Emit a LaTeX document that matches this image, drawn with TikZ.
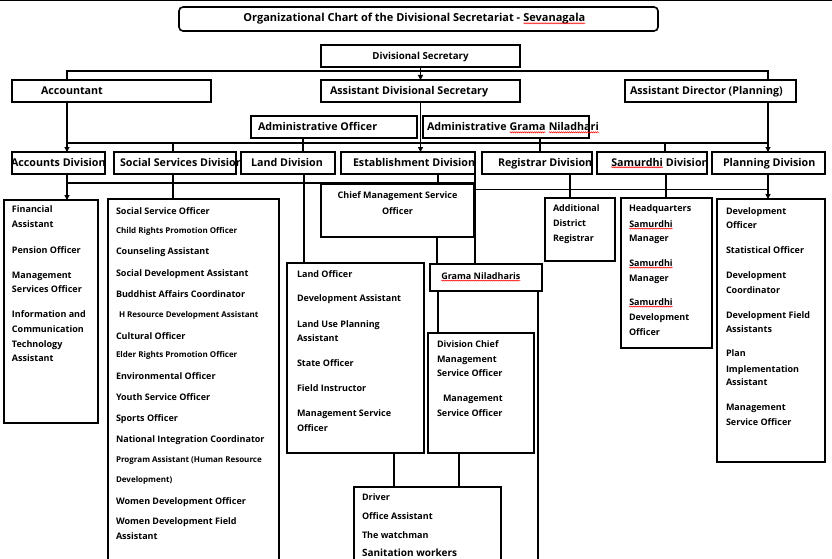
\documentclass[tikz,border=0pt]{standalone}
\usepackage{fontspec}
\setmainfont{Open Sans}
\usetikzlibrary{arrows.meta,decorations.pathmorphing}
\newcommand\sq[1]{\tikz[baseline=(sqw.base)]{\node[inner sep=0pt,outer sep=0pt,anchor=base] (sqw) {#1};\draw[red,line width=0.5pt,decorate,decoration={snake,amplitude=0.6pt,segment length=2pt}] ([yshift=-1.3pt]sqw.base west) -- ([yshift=-1.3pt]sqw.base east);}}
\newcommand\hdfont{\bfseries\fontsize{10.7}{13}\selectfont}
\begin{document}
\begin{tikzpicture}[x=1pt,y=-1pt,
  bx/.style={draw,line width=1.6pt,inner sep=0pt,outer sep=0pt,anchor=north west},
  ln/.style={line width=1.6pt},
  thinln/.style={line width=1pt},
  arr/.style={line width=1.6pt,-{Triangle[length=5pt,width=5pt]}},
  tx/.style={anchor=base west,inner sep=0pt,outer sep=0pt},
  hd/.style={tx,font=\hdfont}]
\clip (0,0) rectangle (832,559);
\draw[thinln] (0,0.5) -- (832,0.5);
% ---------- boxes
\node[bx,rounded corners=4pt,minimum width=479pt,minimum height=24pt] (title) at (179,7) {};
\node[bx,minimum width=199pt,minimum height=22pt] (ds) at (321,45) {};
\node[bx,minimum width=199pt,minimum height=22pt] (acc) at (12,80) {};
\node[bx,minimum width=199pt,minimum height=22pt] (ads) at (321,80) {};
\node[bx,minimum width=171pt,minimum height=22pt] (adp) at (625,80) {};
\node[bx,minimum width=166pt,minimum height=22pt] (ao) at (251,116) {};
\node[bx,minimum width=166pt,minimum height=22pt] (agn) at (423,116) {};
\node[bx,minimum width=93pt,minimum height=22pt] (dacc) at (12,152) {};
\node[bx,minimum width=122pt,minimum height=22pt] (dsoc) at (114,152) {};
\node[bx,minimum width=94pt,minimum height=22pt] (dland) at (241,152) {};
\node[bx,minimum width=134pt,minimum height=22pt] (dest) at (341,152) {};
\node[bx,minimum width=110pt,minimum height=22pt] (dreg) at (482,152) {};
\node[bx,minimum width=110pt,minimum height=22pt] (dsam) at (597,152) {};
\node[bx,minimum width=113pt,minimum height=22pt] (dplan) at (712,152) {};
\node[bx,minimum width=94pt,minimum height=223pt] (sacc) at (4,200) {};
\node[bx,minimum width=171pt,minimum height=380pt] (ssoc) at (108,199) {};
\node[bx,minimum width=153pt,minimum height=53pt] (cmso) at (321,184) {};
\node[bx,minimum width=137pt,minimum height=190pt] (land) at (287,263) {};
\node[bx,minimum width=112pt,minimum height=27pt] (gn) at (430,264) {};
\node[bx,minimum width=106pt,minimum height=120pt] (dcm) at (428,333) {};
\node[bx,minimum width=147pt,minimum height=90pt] (drv) at (354,487) {};
\node[bx,minimum width=70pt,minimum height=63pt] (adr) at (545,198) {};
\node[bx,minimum width=91pt,minimum height=150pt] (sam) at (621,198) {};
\node[bx,minimum width=108pt,minimum height=263pt] (plan) at (717,199) {};
% ---------- coordinates
\coordinate (b1l) at (67,71);
\coordinate (b1r) at (768,71);
\coordinate (b2l) at (67,143);
\coordinate (b2r) at (768,143);
\coordinate (b3l) at (67,183);
\coordinate (b3r) at (475,183);
\coordinate (b4l) at (475,189);
\coordinate (b4r) at (768,189);
\coordinate (x173) at (173,0);
\coordinate (x303) at (303,0);
\coordinate (x304) at (304,0);
\coordinate (x394) at (394,0);
\coordinate (x437) at (437,0);
\coordinate (x438) at (438,0);
\coordinate (x459) at (459,0);
\coordinate (x538) at (538,0);
\coordinate (x540) at (540,0);
\coordinate (x570) at (570,0);
\coordinate (x665) at (665,0);
\coordinate (x666) at (666,0);
\coordinate (gnend) at (538,570);
% ---------- connectors
\draw[arr] (ds.south) -- (ds.south |- ads.north);
\draw[ln] (b1l |- acc.north) -- (b1l) -- (b1r) -- (b1r |- adp.north);
\draw[arr] (b1l |- acc.south) -- (b1l |- dacc.north);
\draw[arr] (b1r |- adp.south) -- (b1r |- dplan.north);
\draw[arr] (ads.south) -- (ads.south |- dest.north);
\draw[ln] (b2l) -- (b2r);
\draw[ln] (x173 |- b2l) -- (x173 |- dsoc.north);
\draw[ln] (x303 |- ao.south) -- (x303 |- dland.north);
\draw[ln] (x540 |- agn.south) -- (x540 |- dreg.north);
\draw[ln] (x665 |- b2l) -- (x665 |- dsam.north);
\draw[arr] (b1l |- dacc.south) -- (b1l |- sacc.north);
\draw[ln] (x173 |- dsoc.south) -- (x173 |- ssoc.north);
\draw[ln] (x304 |- dland.south) -- (x304 |- land.north);
\draw[ln] (x438 |- dest.south) -- (x438 |- cmso.north);
\draw[ln] (b3l) -- (b3r);
\draw[ln] (dest.south east) -- (dest.south east |- gn.north);
\draw[thinln] (b4l) -- (b4r);
\draw[ln] (x570 |- dreg.south) -- (x570 |- adr.north);
\draw[ln] (x666 |- dsam.south) -- (x666 |- sam.north);
\draw[arr] (b1r |- dplan.south) -- (b1r |- plan.north);
\draw[ln] (x437 |- cmso.south) -- (x437 |- gn.north);
\draw[ln] (x438 |- gn.south) -- (x438 |- dcm.north);
\draw[ln] (x538 |- gn.south) -- (gnend);
\draw[ln] (x394 |- land.south) -- (x394 |- drv.north);
\draw[ln] (x459 |- dcm.south) -- (x459 |- drv.north);
% ---------- header texts
\node[tx,anchor=base,font=\bfseries\fontsize{11}{13}\selectfont] (titlet) at (414.5,22) {Organizational Chart of the Divisional Secretariat - \sq{Sevanagala}};
\node[tx,anchor=base,font=\bfseries\fontsize{9.7}{12}\selectfont] (dst) at (420.5,59.6) {Divisional Secretary};
\node[hd] (acct) at (41,95) {Accountant};
\node[hd] (adst) at (330,95) {Assistant Divisional Secretary};
\node[hd] (adpt) at (630,95) {Assistant Director (Planning)};
\node[hd] (aot) at (258,131) {Administrative Officer};
\node[hd] (agnt) at (427,131) {Administrative \sq{Grama} \sq{Niladhari}};
\node[hd] (dacct) at (11,166) {Accounts Division};
\node[hd] (dsoct) at (120,166) {Social Services Division};
\node[hd] (dlandt) at (251,166) {Land Division};
\node[hd] (destt) at (353,166) {Establishment Division};
\node[hd] (dregt) at (498,166) {Registrar Division};
\node[hd] (dsamt) at (611,166) {\sq{Samurdhi} Division};
\node[hd] (dplant) at (723,166) {Planning Division};
% ---------- box contents
\foreach \xx/\yy/\fs/\tx [count=\i] in {12/209/9/Financial,12/224/9/Assistant,12/250/9/Pension Officer,12/275/9/Management,12/289/9/Services Officer,12/314/9/Information and,12/329/9/Communication,12/344/9/Technology,12/358/9/Assistant}
  \node[tx,font=\bfseries\fontsize{\fs}{\fs}\selectfont] (sacc\i) at (\xx,\yy+0.37*\fs) {\tx};
\foreach \xx/\yy/\fs/\tx [count=\i] in {116/211/9/Social Service Officer,116/231/8/Child Rights Promotion Officer,116/251/9/Counseling Assistant,116/273/9/Social Development Assistant,116/294/9/Buddhist Affairs Coordinator,119/315/8/H Resource Development Assistant,116/336/9/Cultural Officer,116/355/8/Elder Rights Promotion Officer,116/376/9/Environmental Officer,116/397/9/Youth Service Officer,116/418/9/Sports Officer,116/439/9/National Integration Coordinator,116/460/8/Program Assistant (Human Resource,116/480/8/Development),116/501/9/Women Development Officer,116/521/9/Women Development Field,116/536/9/Assistant}
  \node[tx,font=\bfseries\fontsize{\fs}{\fs}\selectfont] (ssoc\i) at (\xx,\yy+0.37*\fs) {\tx};
\node[tx,anchor=base,font=\bfseries\fontsize{9}{9}\selectfont] (cmso1) at (397.5,198.3) {Chief Management Service};
\node[tx,anchor=base,font=\bfseries\fontsize{9}{9}\selectfont] (cmso2) at (397.5,214.3) {Officer};
\foreach \xx/\yy/\fs/\tx [count=\i] in {297/274/9/Land Officer,297/298/9/Development Assistant,297/324/9/Land Use Planning,297/338/9/Assistant,297/363/9/State Officer,297/388/9/Field Instructor,297/413/9/Management Service,297/428/9/Officer}
  \node[tx,font=\bfseries\fontsize{\fs}{\fs}\selectfont] (land\i) at (\xx,\yy+0.37*\fs) {\tx};
\node[tx,font=\bfseries\fontsize{9}{9}\selectfont] (gnt) at (441,279.3) {\sq{Grama Niladharis}};
\foreach \xx/\yy/\fs/\tx [count=\i] in {437/344/9/Division Chief,437/359/9/Management,437/373/9/Service Officer,443/398/9/Management,437/413/9/Service Officer}
  \node[tx,font=\bfseries\fontsize{\fs}{\fs}\selectfont] (dcm\i) at (\xx,\yy+0.37*\fs) {\tx};
\foreach \xx/\yy/\fs/\tx [count=\i] in {362/497/9/Driver,362/516/9/Office Assistant,362/535/9/The watchman,362/553/10/Sanitation workers}
  \node[tx,font=\bfseries\fontsize{\fs}{\fs}\selectfont] (drv\i) at (\xx,\yy+0.37*\fs) {\tx};
\foreach \xx/\yy/\fs/\tx [count=\i] in {553/208/9/Additional,553/223/9/District,553/238/9/Registrar}
  \node[tx,font=\bfseries\fontsize{\fs}{\fs}\selectfont] (adr\i) at (\xx,\yy+0.37*\fs) {\tx};
\foreach \xx/\yy/\fs/\tx [count=\i] in {629/208/9/Headquarters,629/224/9/\sq{Samurdhi},629/238/9/Manager,629/263/9/\sq{Samurdhi},629/278/9/Manager,629/302/9/\sq{Samurdhi},629/317/9/Development,629/332/9/Officer}
  \node[tx,font=\bfseries\fontsize{\fs}{\fs}\selectfont] (sam\i) at (\xx,\yy+0.37*\fs) {\tx};
\foreach \xx/\yy/\fs/\tx [count=\i] in {726/211/9/Development,726/225/9/Officer,726/250/9/Statistical Officer,726/275/9/Development,726/290/9/Coordinator,726/315/9/Development Field,726/329/9/Assistants,726/353/9/Plan,726/369/9/Implementation,726/382/9/Assistant,726/407/9/Management,726/422/9/Service Officer}
  \node[tx,font=\bfseries\fontsize{\fs}{\fs}\selectfont] (plan\i) at (\xx,\yy+0.37*\fs) {\tx};
\end{tikzpicture}
\end{document}
